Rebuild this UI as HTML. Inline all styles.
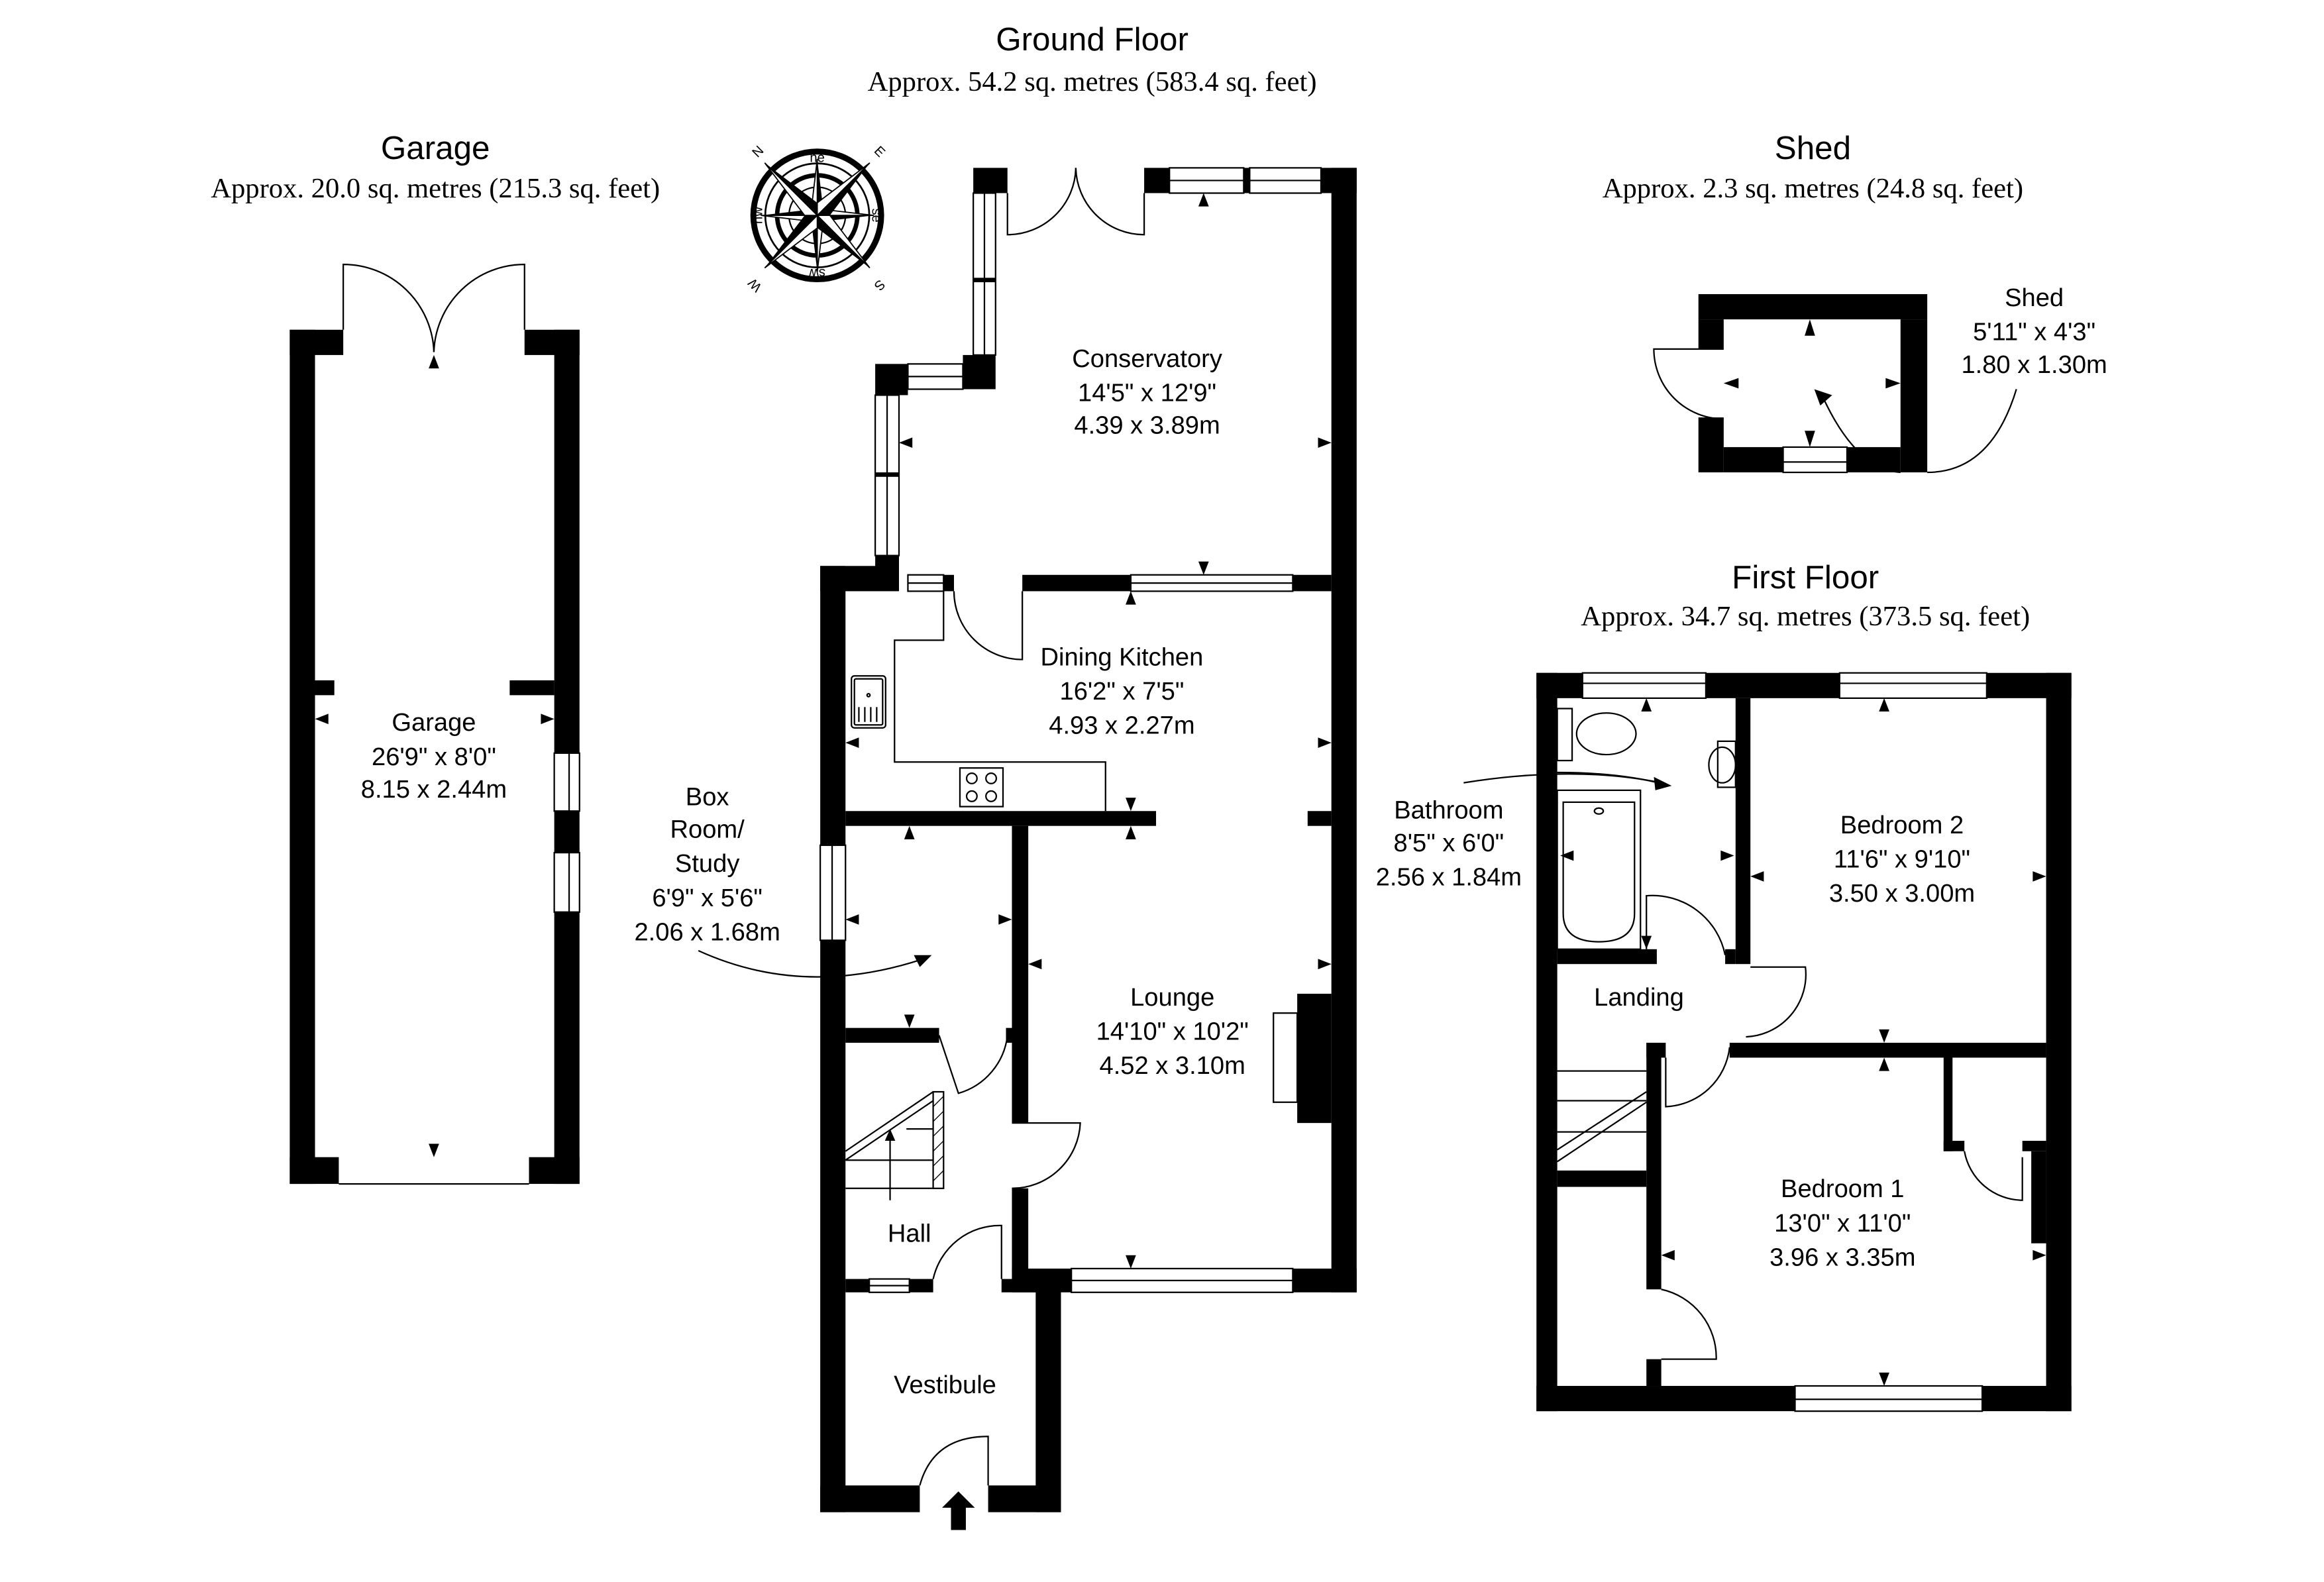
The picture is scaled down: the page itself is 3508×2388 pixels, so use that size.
<!DOCTYPE html>
<html><head><meta charset="utf-8"><style>
html,body{margin:0;padding:0;background:#fff;}
svg{display:block;}
text{font-family:"Liberation Sans",sans-serif;fill:#000;}
.s{font-family:"Liberation Serif",serif;}
</style></head><body>
<svg width="3508" height="2388" viewBox="0 0 1564 1065" preserveAspectRatio="none" xmlns="http://www.w3.org/2000/svg">
<defs>
<g id="pt"><polygon points="0,-50 6,-6 0,0" fill="#000"/><polygon points="0,-50 -6,-6 0,0" fill="#fff" stroke="#000" stroke-width="0.8"/></g>
<g id="pt2"><polygon points="0,-38 4,-4 0,0" fill="#000"/><polygon points="0,-38 -4,-4 0,0" fill="#fff" stroke="#000" stroke-width="0.8"/></g>
</defs>
<rect width="1564" height="1065" fill="#fff"/>

<!-- Titles -->
<g text-anchor="middle">
<text x="735" y="34" font-size="22">Ground Floor</text>
<text x="735" y="61" font-size="19" class="s">Approx. 54.2 sq. metres (583.4 sq. feet)</text>
<text x="293" y="107" font-size="22">Garage</text>
<text x="293" y="133" font-size="19" class="s">Approx. 20.0 sq. metres (215.3 sq. feet)</text>
<text x="1220" y="107" font-size="22">Shed</text>
<text x="1220" y="133" font-size="19" class="s">Approx. 2.3 sq. metres (24.8 sq. feet)</text>
<text x="1215" y="396" font-size="22">First Floor</text>
<text x="1215" y="421" font-size="19" class="s">Approx. 34.7 sq. metres (373.5 sq. feet)</text>
</g>

<!-- Compass -->
<g transform="translate(550,145)">
<circle r="43" fill="none" stroke="#000" stroke-width="4"/>
<circle r="35" fill="none" stroke="#000" stroke-width="1.2"/>
<circle r="27" fill="none" stroke="#000" stroke-width="3"/>
<circle r="19" fill="none" stroke="#000" stroke-width="1"/>
<use href="#pt2" transform="rotate(0)"/><use href="#pt2" transform="rotate(90)"/><use href="#pt2" transform="rotate(180)"/><use href="#pt2" transform="rotate(270)"/>
<use href="#pt" transform="rotate(-45)"/><use href="#pt" transform="rotate(45)"/><use href="#pt" transform="rotate(135)"/><use href="#pt" transform="rotate(225)"/>
<g font-size="9" text-anchor="middle" fill="#000">
<text x="0" y="-36">ne</text><text x="0" y="42" transform="rotate(180 0 39)">sw</text>
<text x="40" y="3" transform="rotate(90 40 0)">se</text><text x="-40" y="3" transform="rotate(-90 -40 0)">nw</text>
<text x="-40" y="-40" transform="rotate(-45 -40 -43)">N</text><text x="42" y="-40" transform="rotate(45 42 -43)">E</text>
<text x="42" y="50" transform="rotate(135 42 47)">S</text><text x="-42" y="50" transform="rotate(-135 -42 47)">W</text>
</g>
</g>

<!-- ================= GROUND FLOOR ================= -->
<g fill="#000">
<rect x="655" y="113" width="23" height="17"/>
<rect x="770" y="113" width="17" height="17"/>
<rect x="889" y="113" width="24" height="17"/>
<rect x="896" y="113" width="17" height="757"/>
<rect x="648" y="239" width="22" height="23"/>
<rect x="589" y="245" width="22" height="21"/>
<rect x="589" y="374" width="16" height="8"/>
<rect x="552" y="381" width="53" height="17"/>
<rect x="635" y="387" width="7" height="11"/>
<rect x="688" y="387" width="73" height="11"/>
<rect x="870" y="387" width="26" height="11"/>
<rect x="552" y="381" width="17" height="637"/>
<rect x="569" y="546" width="209" height="10"/>
<rect x="880" y="546" width="16" height="10"/>
<rect x="681" y="556" width="11" height="200"/>
<rect x="677" y="692" width="5" height="10"/>
<rect x="681" y="800" width="11" height="61"/>
<rect x="569" y="692" width="63" height="10"/>
<rect x="569" y="861" width="16" height="9"/>
<rect x="612" y="861" width="16" height="9"/>
<rect x="674" y="861" width="24" height="9"/>
<rect x="697" y="861" width="17" height="157"/>
<rect x="681" y="854" width="40" height="16"/>
<rect x="870" y="854" width="43" height="16"/>
<rect x="873" y="669" width="23" height="87"/>
<rect x="552" y="1000" width="67" height="18"/>
<rect x="665" y="1000" width="49" height="18"/>
</g>
<g fill="#fff" stroke="#000" stroke-width="1">
<rect x="655" y="130" width="15" height="109"/><line x1="662.5" y1="130" x2="662.5" y2="239"/>
<rect x="611" y="245" width="37" height="17"/><line x1="611" y1="253.5" x2="648" y2="253.5"/>
<rect x="589" y="266" width="16" height="108"/><line x1="597" y1="266" x2="597" y2="374"/>
<rect x="787" y="113" width="50" height="17"/><line x1="787" y1="121.5" x2="837" y2="121.5"/>
<rect x="841" y="113" width="48" height="17"/><line x1="841" y1="121.5" x2="889" y2="121.5"/>
<rect x="611" y="387" width="24" height="11"/><line x1="611" y1="392.5" x2="635" y2="392.5"/>
<rect x="761" y="387" width="109" height="11"/><line x1="761" y1="392.5" x2="870" y2="392.5"/>
<rect x="552" y="569" width="17" height="64"/><line x1="560" y1="569" x2="560" y2="633"/>
<rect x="585" y="861" width="27" height="9"/><line x1="585" y1="865.5" x2="612" y2="865.5"/>
<rect x="721" y="854" width="149" height="16"/><line x1="721" y1="862" x2="870" y2="862"/>
<rect x="857" y="682" width="16" height="60"/>
</g>
<g fill="#000">
<rect x="655" y="187" width="15" height="3"/>
<rect x="589" y="318" width="16" height="3"/>
<rect x="837" y="113" width="4" height="17"/>
</g>
<g fill="none" stroke="#000" stroke-width="1">
<path d="M678,130 L678,158 A46,46 0 0 0 724,113"/>
<path d="M770,130 L770,158 A46,46 0 0 1 724,113"/>
<path d="M642,398 A46,46 0 0 0 688,444 L688,398"/>
<path d="M635,398 L635,431 L602,431 L602,513 L744,513 L744,546"/>
<rect x="573" y="455" width="23" height="35" rx="2"/>
<rect x="575" y="457" width="19" height="31" rx="1"/>
<line x1="578" y1="476" x2="578" y2="486"/><line x1="582" y1="476" x2="582" y2="486"/><line x1="586" y1="476" x2="586" y2="486"/><line x1="590" y1="476" x2="590" y2="486"/>
<circle cx="584.5" cy="468" r="1"/>
<rect x="646" y="517" width="29" height="26"/>
<circle cx="654" cy="524" r="3.5"/><circle cx="667" cy="524" r="3.5"/><circle cx="654" cy="536" r="3.5"/><circle cx="667" cy="536" r="3.5"/>
<path d="M632,697 L645,736 A46,46 0 0 0 678,697"/>
<path d="M681,756 L727,756 A46,46 0 0 1 681,800"/>
<path d="M628,861 A46,46 0 0 1 674,825 L674,861"/>
<path d="M619,1000 Q628,967 665,967 L665,1000"/>
<line x1="569" y1="775" x2="628" y2="735"/><line x1="569" y1="781" x2="628" y2="741"/>
<line x1="610" y1="760" x2="628" y2="760"/>
<line x1="569" y1="781" x2="628" y2="781"/>
<line x1="569" y1="800" x2="635" y2="800"/>
<line x1="599" y1="808" x2="599" y2="766"/>
<path d="M470,640 Q540,672 620,646"/>
</g>
<rect x="628" y="735" width="7" height="65" fill="#fff" stroke="#000" stroke-width="1"/>
<g stroke="#000" stroke-width="0.6">
<line x1="628" y1="745" x2="635" y2="738"/><line x1="628" y1="755" x2="635" y2="748"/><line x1="628" y1="765" x2="635" y2="758"/><line x1="628" y1="775" x2="635" y2="768"/><line x1="628" y1="785" x2="635" y2="778"/><line x1="628" y1="795" x2="635" y2="788"/>
</g>
<g fill="#000">
<polygon points="599,760 595.5,768 602.5,768"/>
<polygon points="627,643 615,643 619,651"/>
<polygon points="645,1004 634,1015 640,1015 640,1030 650,1030 650,1015 656,1015"/>
<polygon points="810,130 806.5,139 813.5,139"/>
<polygon points="605,298 614,294.5 614,301.5"/>
<polygon points="896,298 887,294.5 887,301.5"/>
<polygon points="810,387 806.5,378 813.5,378"/>
<polygon points="761,398 757.5,407 764.5,407"/>
<polygon points="569,500 578,496.5 578,503.5"/>
<polygon points="896,500 887,496.5 887,503.5"/>
<polygon points="761,546 757.5,537 764.5,537"/>
<polygon points="761,556 757.5,565 764.5,565"/>
<polygon points="692,649 701,645.5 701,652.5"/>
<polygon points="896,649 887,645.5 887,652.5"/>
<polygon points="761,854 757.5,845 764.5,845"/>
<polygon points="612,556 608.5,565 615.5,565"/>
<polygon points="569,619 578,615.5 578,622.5"/>
<polygon points="681,619 672,615.5 672,622.5"/>
<polygon points="612,692 608.5,683 615.5,683"/>
</g>
<g text-anchor="middle" font-size="17">
<text x="772" y="247">Conservatory</text><text x="772" y="270">14'5" x 12'9"</text><text x="772" y="292">4.39 x 3.89m</text>
<text x="755" y="448">Dining Kitchen</text><text x="755" y="471">16'2" x 7'5"</text><text x="755" y="494">4.93 x 2.27m</text>
<text x="789" y="677">Lounge</text><text x="789" y="700">14'10" x 10'2"</text><text x="789" y="723">4.52 x 3.10m</text>
<text x="476" y="542">Box</text><text x="476" y="564">Room/</text><text x="476" y="587">Study</text><text x="476" y="610">6'9" x 5'6"</text><text x="476" y="633">2.06 x 1.68m</text>
<text x="612" y="836">Hall</text>
<text x="636" y="938">Vestibule</text>
</g>

<!-- ================= GARAGE ================= -->
<g fill="#000">
<rect x="195" y="222" width="17" height="575"/>
<rect x="195" y="222" width="36" height="17"/>
<rect x="353" y="222" width="37" height="17"/>
<rect x="373" y="222" width="17" height="285"/>
<rect x="373" y="546" width="17" height="28"/>
<rect x="373" y="614" width="17" height="183"/>
<rect x="195" y="779" width="33" height="18"/>
<rect x="356" y="779" width="34" height="18"/>
<rect x="212" y="458" width="13" height="10"/>
<rect x="343" y="458" width="30" height="10"/>
<polygon points="292,239 288.5,248 295.5,248"/>
<polygon points="292,779 288.5,770 295.5,770"/>
<polygon points="212,484 221,480.5 221,487.5"/>
<polygon points="373,484 364,480.5 364,487.5"/>
</g>
<g fill="#fff" stroke="#000" stroke-width="1">
<rect x="373" y="507" width="17" height="39"/><line x1="383" y1="507" x2="383" y2="546"/>
<rect x="373" y="574" width="17" height="40"/><line x1="383" y1="574" x2="383" y2="614"/>
</g>
<g fill="none" stroke="#000" stroke-width="1">
<line x1="228" y1="797" x2="356" y2="797"/>
<path d="M231,222 L231,178 A61,61 0 0 1 292,237"/>
<path d="M353,222 L353,178 A61,61 0 0 0 292,237"/>
</g>
<g text-anchor="middle" font-size="17">
<text x="292" y="492">Garage</text><text x="292" y="515">26'9" x 8'0"</text><text x="292" y="537">8.15 x 2.44m</text>
</g>

<!-- ================= SHED ================= -->
<g fill="#000">
<rect x="1143" y="198" width="154" height="17"/>
<rect x="1143" y="215" width="17" height="20"/>
<rect x="1143" y="281" width="17" height="37"/>
<rect x="1279" y="215" width="18" height="103"/>
<rect x="1160" y="301" width="40" height="17"/>
<rect x="1243" y="301" width="36" height="17"/>
<polygon points="1218,215 1214.5,226 1221.5,226"/>
<polygon points="1218,301 1214.5,290 1221.5,290"/>
<polygon points="1160,258 1170,254.5 1170,261.5"/>
<polygon points="1279,258 1269,254.5 1269,261.5"/>
<polygon points="1221,262 1233,266 1225,273"/>
</g>
<g fill="#fff" stroke="#000" stroke-width="1">
<rect x="1200" y="301" width="43" height="17"/><line x1="1200" y1="311" x2="1243" y2="311"/>
</g>
<g fill="none" stroke="#000" stroke-width="1">
<path d="M1160,235 L1113,235 A47,47 0 0 0 1160,282"/>
<path d="M1357,262 Q1340,318 1297,318"/>
<path d="M1279,318 Q1250,316 1228,270"/>
</g>
<g text-anchor="middle" font-size="17">
<text x="1369" y="206">Shed</text><text x="1369" y="229">5'11" x 4'3"</text><text x="1369" y="251">1.80 x 1.30m</text>
</g>

<!-- ================= FIRST FLOOR ================= -->
<g fill="#000">
<rect x="1034" y="453" width="360" height="17"/>
<rect x="1034" y="453" width="14" height="497"/>
<rect x="1377" y="453" width="17" height="497"/>
<rect x="1034" y="933" width="360" height="17"/>
<rect x="1168" y="470" width="10" height="179"/>
<rect x="1161" y="639" width="7" height="10"/>
<rect x="1048" y="639" width="67" height="10"/>
<rect x="1108" y="702" width="10" height="166"/>
<rect x="1108" y="915" width="10" height="18"/>
<rect x="1164" y="702" width="213" height="10"/>
<rect x="1108" y="702" width="13" height="10"/>
<rect x="1308" y="712" width="6" height="63"/>
<rect x="1308" y="768" width="14" height="7"/>
<rect x="1361" y="768" width="16" height="7"/>
<rect x="1367" y="775" width="10" height="62"/>
<rect x="1048" y="788" width="60" height="11"/>
</g>
<g fill="#fff" stroke="#000" stroke-width="1">
<rect x="1065" y="453" width="83" height="17"/><line x1="1065" y1="460" x2="1148" y2="460"/>
<rect x="1238" y="453" width="99" height="17"/><line x1="1238" y1="460" x2="1337" y2="460"/>
<rect x="1208" y="933" width="126" height="17"/><line x1="1208" y1="942" x2="1334" y2="942"/>
</g>
<g fill="none" stroke="#000" stroke-width="1">
<rect x="1048" y="477" width="10" height="35"/>
<ellipse cx="1081" cy="494" rx="20" ry="14"/>
<rect x="1156" y="499" width="12" height="31"/>
<ellipse cx="1159" cy="515" rx="9" ry="12"/>
<rect x="1048" y="532" width="56" height="107"/>
<path d="M1052,540 L1100,540 L1100,615 Q1100,634 1076,634 Q1052,634 1052,615 Z"/>
<ellipse cx="1076" cy="546" rx="3" ry="2"/>
<path d="M1048,520 Q1090,520 1120,528"/>
<path d="M1108,639 L1108,603 A50,50 0 0 1 1161,643"/>
<path d="M1178,651 L1215,651 A42,42 0 0 1 1175,698"/>
<path d="M1121,712 L1121,745 A45,45 0 0 0 1164,705"/>
<path d="M1118,868 A47,47 0 0 1 1155,915 L1118,915"/>
<path d="M1322,775 A40,40 0 0 0 1361,808 L1361,779"/>
<line x1="1048" y1="721" x2="1108" y2="721"/>
<line x1="1048" y1="741" x2="1108" y2="741"/>
<line x1="1048" y1="762" x2="1108" y2="762"/>
<line x1="1048" y1="774" x2="1108" y2="735"/>
<line x1="1048" y1="782" x2="1108" y2="742"/>
<path d="M985,527 Q1060,515 1118,527"/>
</g>
<g fill="#000">
<polygon points="1125,529 1113,523 1114,532"/>
<polygon points="1108,470 1104.5,479 1111.5,479"/>
<polygon points="1050,576 1059,572.5 1059,579.5"/>
<polygon points="1167,576 1158,572.5 1158,579.5"/>
<polygon points="1108,639 1104.5,630 1111.5,630"/>
<polygon points="1268,470 1264.5,479 1271.5,479"/>
<polygon points="1178,590 1187,586.5 1187,593.5"/>
<polygon points="1377,590 1368,586.5 1368,593.5"/>
<polygon points="1268,702 1264.5,693 1271.5,693"/>
<polygon points="1268,712 1264.5,721 1271.5,721"/>
<polygon points="1118,845 1127,841.5 1127,848.5"/>
<polygon points="1377,845 1368,841.5 1368,848.5"/>
<polygon points="1268,933 1264.5,924 1271.5,924"/>
</g>
<g text-anchor="middle" font-size="17">
<text x="975" y="551">Bathroom</text><text x="975" y="573">8'5" x 6'0"</text><text x="975" y="596">2.56 x 1.84m</text>
<text x="1103" y="677">Landing</text>
<text x="1280" y="561">Bedroom 2</text><text x="1280" y="584">11'6" x 9'10"</text><text x="1280" y="607">3.50 x 3.00m</text>
<text x="1240" y="806">Bedroom 1</text><text x="1240" y="829">13'0" x 11'0"</text><text x="1240" y="852">3.96 x 3.35m</text>
</g>
</svg>
</body></html>
